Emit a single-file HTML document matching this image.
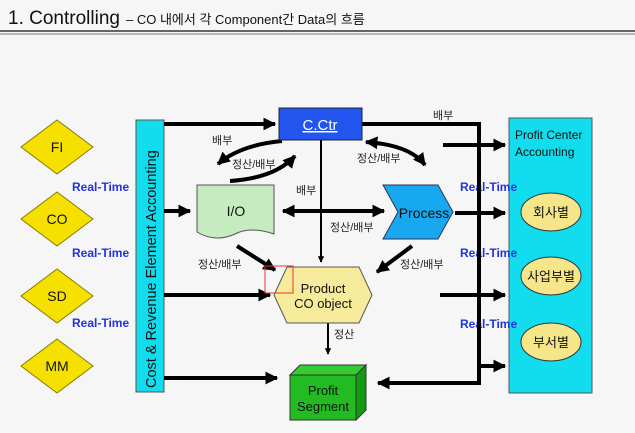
<!DOCTYPE html>
<html><head><meta charset="utf-8"><style>
body{margin:0;background:#f6f6f6;}
svg{display:block;font-family:"Liberation Sans","Noto Sans CJK KR",sans-serif;}
</style></head><body>
<svg width="635" height="433" viewBox="0 0 635 433" xmlns="http://www.w3.org/2000/svg">
<defs>
<marker id="a" viewBox="0 0 10 10" refX="9" refY="5" markerWidth="3.2" markerHeight="3.2" orient="auto-start-reverse"><path d="M0,0L10,5L0,10z" fill="#000"/></marker>
</defs>
<rect width="635" height="433" fill="#f6f6f6"/>
<text x="8" y="24" font-size="19" fill="#111" textLength="112" lengthAdjust="spacingAndGlyphs">1. Controlling</text>
<text x="126" y="24" font-size="13" fill="#111">– CO 내에서 각 Component간 Data의 흐름</text>
<line x1="0" y1="31" x2="635" y2="31" stroke="#333" stroke-width="1.5"/>
<line x1="0" y1="34" x2="635" y2="34" stroke="#777" stroke-width="1"/>

<!-- diamonds -->
<g stroke="#8a7a00" stroke-width="1" fill="#f5e000">
<polygon points="57,120 93,147 57,174 21,147"/>
<polygon points="57,192 93,219 57,246 21,219"/>
<polygon points="57,269 93,296 57,323 21,296"/>
<polygon points="57,339 93,366 57,393 21,366"/>
</g>
<g font-size="14" text-anchor="middle" fill="#111">
<text x="57" y="152">FI</text><text x="57" y="224">CO</text><text x="57" y="301">SD</text><text x="57" y="371">MM</text>
</g>

<!-- left bar -->
<rect x="136" y="120" width="28" height="272" fill="#11ddee" stroke="#555"/>
<text transform="translate(156,388) rotate(-90)" font-size="14.5" fill="#111">Cost &amp; Revenue Element Accounting</text>

<!-- right bar -->
<rect x="509" y="118" width="83" height="275" fill="#11ddee" stroke="#555"/>
<text x="515" y="139" font-size="12" fill="#111">Profit Center</text>
<text x="515" y="156" font-size="12" fill="#111">Accounting</text>
<g fill="#f5e68a" stroke="#333">
<ellipse cx="551" cy="212" rx="30" ry="19"/><ellipse cx="551" cy="276" rx="30" ry="19"/><ellipse cx="551" cy="342" rx="30" ry="19"/>
</g>
<g font-size="13" text-anchor="middle" fill="#111">
<text x="551" y="217">회사별</text><text x="551" y="281">사업부별</text><text x="551" y="347">부서별</text>
</g>

<g font-size="12" fill="#2233dd" font-weight="bold">
<text x="72" y="191">Real-Time</text><text x="72" y="257">Real-Time</text><text x="72" y="327">Real-Time</text>
<text x="460" y="191">Real-Time</text><text x="460" y="257">Real-Time</text><text x="460" y="328">Real-Time</text>
</g>

<!-- lines -->
<g stroke="#000" stroke-width="4" fill="none">
<polyline points="362,124 479,124 479,383 378,383" marker-end="url(#a)"/>
<line x1="164" y1="124" x2="275" y2="124" marker-end="url(#a)"/>
<line x1="164" y1="211" x2="190" y2="211" marker-end="url(#a)"/>
<line x1="164" y1="295" x2="270" y2="295" marker-end="url(#a)"/>
<line x1="164" y1="378" x2="277" y2="378" marker-end="url(#a)"/>
<line x1="443" y1="145" x2="505" y2="145" marker-end="url(#a)"/>
<line x1="455" y1="213" x2="505" y2="213" marker-end="url(#a)"/>
<line x1="440" y1="295" x2="505" y2="295" marker-end="url(#a)"/>
<line x1="479" y1="366" x2="505" y2="366" marker-end="url(#a)"/>
<line x1="283" y1="211" x2="384" y2="211" marker-start="url(#a)" marker-end="url(#a)"/>
<line x1="237" y1="246" x2="275" y2="270" marker-end="url(#a)"/>
<line x1="412" y1="246" x2="377" y2="272" marker-end="url(#a)"/>
<path d="M282,141 Q240,145 218,164" marker-end="url(#a)"/>
<path d="M230,181 Q275,178 295,156" marker-end="url(#a)"/>
<path d="M366,142 Q410,145 425,165" marker-start="url(#a)" marker-end="url(#a)"/>
</g>
<g stroke="#000" stroke-width="2" fill="none">
<line x1="321" y1="140" x2="321" y2="262" marker-end="url(#a)"/>
<line x1="328" y1="323" x2="328" y2="354" marker-end="url(#a)"/>
</g>

<!-- C.Ctr -->
<rect x="279" y="108" width="83" height="32" fill="#2255ee" stroke="#223"/>
<text x="320" y="130" font-size="15" text-anchor="middle" fill="#fff" text-decoration="underline">C.Ctr</text>

<!-- I/O -->
<path d="M197,185 L274,185 L274,234 Q250,226 235,234 Q215,243 197,232 Z" fill="#c6ebc0" stroke="#555"/>
<text x="236" y="216" font-size="14" text-anchor="middle" fill="#111">I/O</text>

<!-- Process -->
<polygon points="383,185 438,185 453,212 438,239 383,239 398,212" fill="#18a8f0" stroke="#335"/>
<text x="424" y="218" font-size="14" text-anchor="middle" fill="#111">Process</text>

<!-- Product hexagon -->
<polygon points="287,267 359,267 372,295 359,323 287,323 274,295" fill="#f5eb9a" stroke="#555"/>
<text x="323" y="293" font-size="13" text-anchor="middle" fill="#111">Product</text>
<text x="323" y="308" font-size="13" text-anchor="middle" fill="#111">CO object</text>
<rect x="265" y="266" width="28" height="27" fill="none" stroke="#e33" stroke-width="1"/>

<!-- cube -->
<polygon points="290,375 300,365 366,365 356,375" fill="#33cc33" stroke="#333"/>
<polygon points="356,375 366,365 366,410 356,420" fill="#119911" stroke="#333"/>
<rect x="290" y="375" width="66" height="45" fill="#22bb22" stroke="#333"/>
<text x="323" y="395" font-size="13" text-anchor="middle" fill="#111">Profit</text>
<text x="323" y="411" font-size="13" text-anchor="middle" fill="#111">Segment</text>

<!-- labels -->
<g font-size="11" fill="#222">
<text x="433" y="119">배부</text>
<text x="212" y="144">배부</text>
<text x="232" y="168">정산/배부</text>
<text x="296" y="194">배부</text>
<text x="357" y="162">정산/배부</text>
<text x="330" y="231">정산/배부</text>
<text x="198" y="268">정산/배부</text>
<text x="400" y="268">정산/배부</text>
<text x="334" y="338">정산</text>
</g>
</svg>
</body></html>
